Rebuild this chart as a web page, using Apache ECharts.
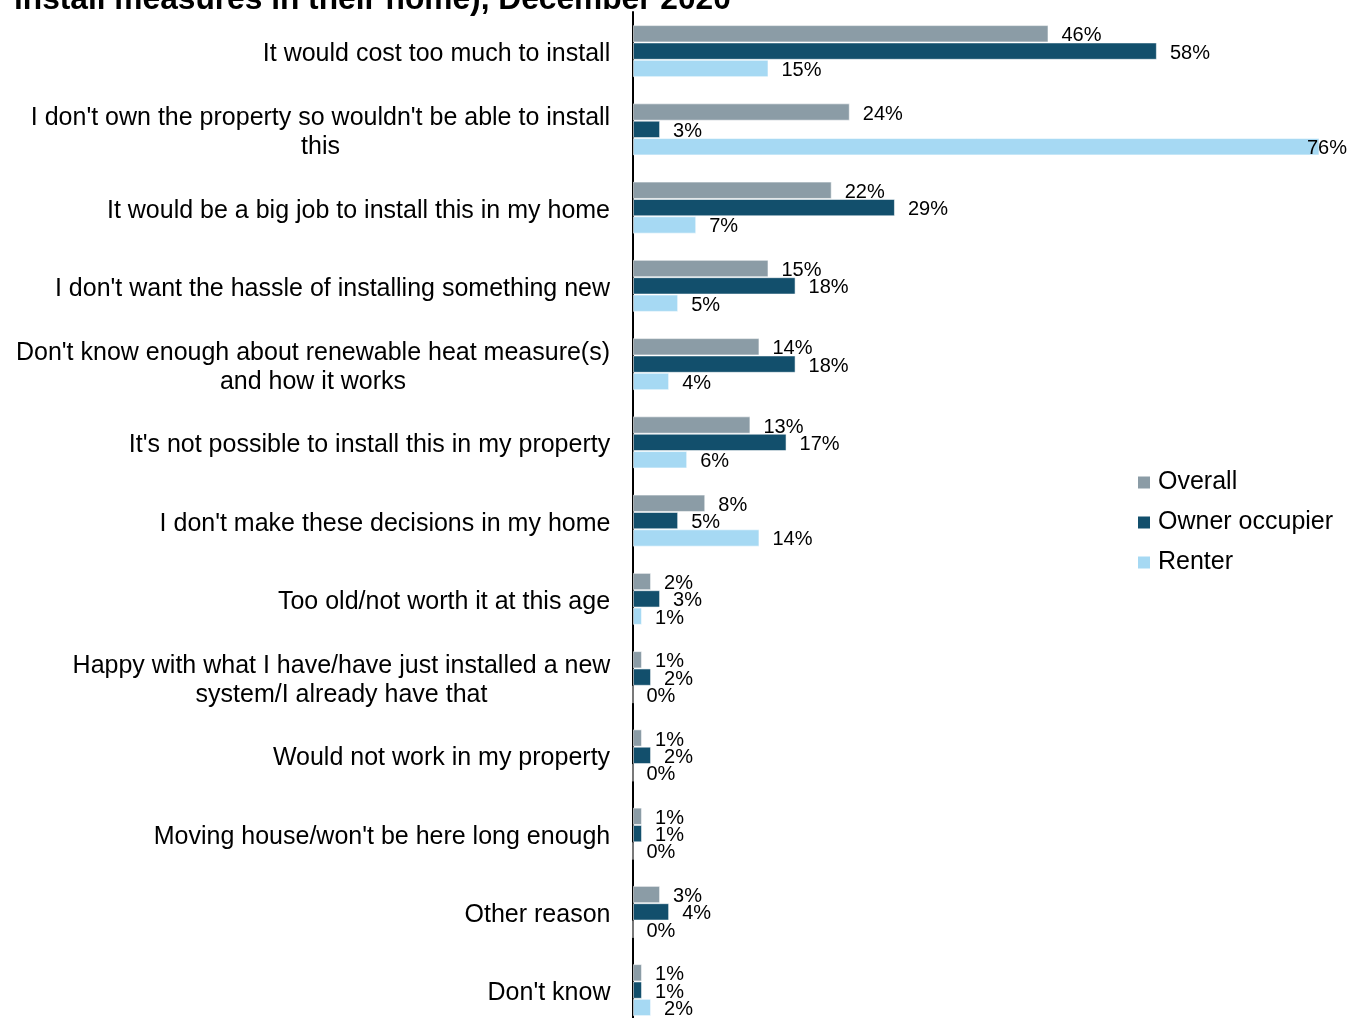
<!DOCTYPE html>
<html>
<head>
<meta charset="utf-8">
<title>Reasons for not installing renewable heat measures</title>
<script src="https://cdn.jsdelivr.net/npm/echarts@6/dist/echarts.min.js"></script>
<style>
  html, body { margin: 0; padding: 0; background: #ffffff; }
  #chart { width: 1349px; height: 1018px; }
</style>
</head>
<body>
<div id="chart"></div>
<script>
// Reasons given, top to bottom
const categories = [
  "It would cost too much to install",
  "I don't own the property so wouldn't be able to install\nthis",
  "It would be a big job to install this in my home",
  "I don't want the hassle of installing something new",
  "Don't know enough about renewable heat measure(s)\nand how it works",
  "It's not possible to install this in my property",
  "I don't make these decisions in my home",
  "Too old/not worth it at this age",
  "Happy with what I have/have just installed a new\nsystem/I already have that",
  "Would not work in my property",
  "Moving house/won't be here long enough",
  "Other reason",
  "Don't know"
];

// Percentages per tenure group
const overall       = [46, 24, 22, 15, 14, 13, 8, 2, 1, 1, 1, 3, 1];
const ownerOccupier = [58, 3, 29, 18, 18, 17, 5, 3, 2, 2, 1, 4, 1];
const renter        = [15, 76, 7, 5, 4, 6, 14, 1, 0, 0, 0, 0, 2];

const seriesNames = ["Overall", "Owner occupier", "Renter"];
const titleText = "install measures in their home), December 2020";

const FONT = "'Liberation Sans', Arial, Helvetica, sans-serif";
const colors = ["#8b9ca6", "#124f6c", "#a6d9f3"];

const gridLeft = 633;
const xMax = 80;
const gridWidth = 722.6;
const pxPerUnit = gridWidth / xMax;

// Multi-line category labels: centre each line within the block
const measureCtx = document.createElement("canvas").getContext("2d");
measureCtx.font = "25px " + FONT;
const rich = {};
categories.forEach((c, i) => {
  const w = Math.max(...c.split("\n").map(l => measureCtx.measureText(l).width));
  rich["c" + i] = {
    width: Math.ceil(w) + 1,
    align: "center",
    fontSize: 25,
    fontFamily: FONT,
    color: "#000",
    lineHeight: 29
  };
});

// Value labels sit right of the bar, pulled back if they would run off the canvas
measureCtx.font = "20px " + FONT;
function toData(values) {
  return values.map(v => {
    const end = gridLeft + v * pxPerUnit + 13 + measureCtx.measureText(v + "%").width;
    if (end > 1349) {
      return { value: v, label: { offset: [1347 - end, 2] } };
    }
    return v;
  });
}

const chart = echarts.init(document.getElementById("chart"), null, { renderer: "canvas" });

chart.setOption({
  animation: false,
  backgroundColor: "#ffffff",
  textStyle: { fontFamily: FONT },
  title: {
    text: titleText,
    left: 9,
    top: -21,
    textStyle: { fontSize: 31.7, fontWeight: "bold", color: "#000", fontFamily: FONT }
  },
  legend: {
    orient: "vertical",
    left: 1138,
    top: 470,
    padding: 0,
    itemWidth: 12,
    itemHeight: 12,
    itemGap: 15,
    icon: "rect",
    itemStyle: { borderWidth: 0 },
    data: seriesNames,
    textStyle: { fontSize: 25, color: "#000", fontFamily: FONT, padding: [0, 0, 0, 3] }
  },
  grid: {
    left: gridLeft,
    top: 12,
    width: gridWidth,
    height: 13 * 78.25,
    containLabel: false,
    outerBoundsMode: "none"
  },
  xAxis: {
    type: "value",
    min: 0,
    max: xMax,
    show: false,
    splitLine: { show: false }
  },
  yAxis: {
    type: "category",
    data: categories,
    inverse: true,
    axisLine: { show: true, lineStyle: { color: "#000", width: 2 } },
    axisTick: { show: false },
    axisLabel: {
      margin: 22,
      padding: [6, 0, 0, 0],
      formatter: (value, idx) => value.split("\n").map(l => "{c" + idx + "|" + l + "}").join("\n"),
      rich: rich
    }
  },
  series: [overall, ownerOccupier, renter].map((vals, i) => ({
    name: seriesNames[i],
    type: "bar",
    data: toData(vals),
    barGap: "0%",
    barCategoryGap: "33.5%",
    itemStyle: { color: colors[i], borderColor: "rgba(255,255,255,0.55)", borderWidth: 1 },
    label: {
      show: true,
      position: "right",
      distance: 13,
      offset: [0, 2],
      formatter: "{c}%",
      fontSize: 20,
      color: "#000",
      fontFamily: FONT
    },
    z: 2 + i
  }))
});
</script>
</body>
</html>
